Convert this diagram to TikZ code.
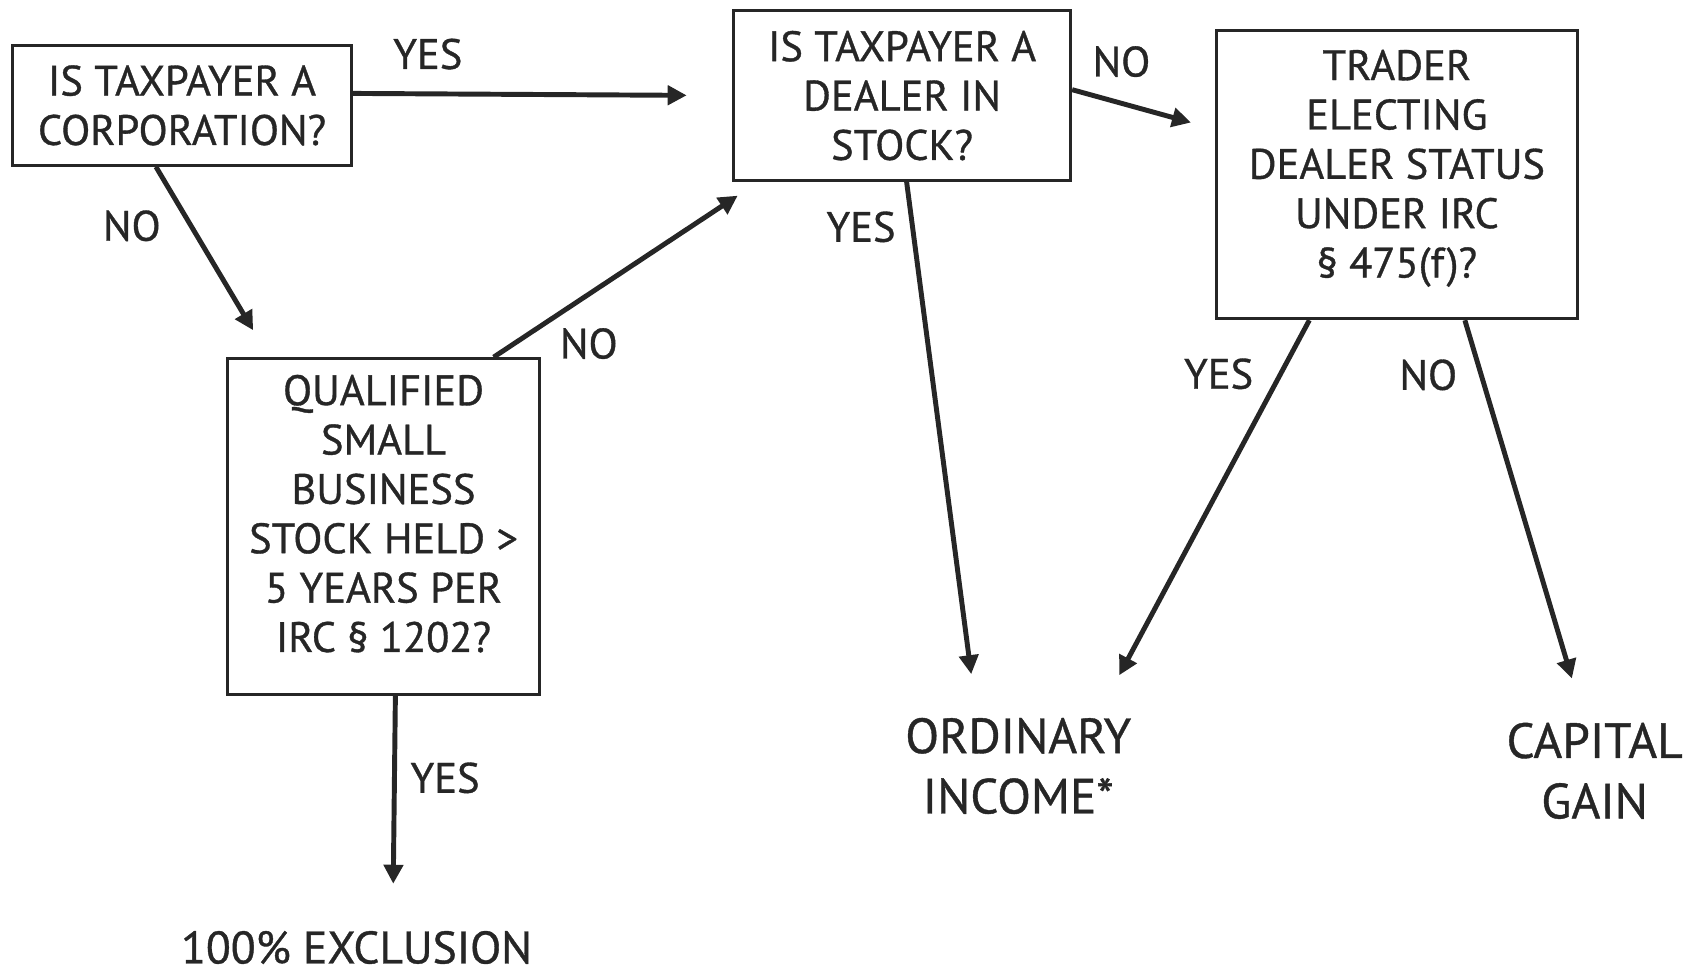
\documentclass[tikz,border=0pt]{standalone}
\usepackage{fontspec}
\setmainfont{PT Sans}[FakeBold=0.8]
\usetikzlibrary{arrows.meta}
\definecolor{ink}{gray}{0.15}

\begin{document}
\begin{tikzpicture}[x=0.1mm,y=-0.1mm,
		qbox/.style={draw=ink,line width=0.8pt,text=ink,align=center,inner sep=0pt,font=\fontsize{11.2}{13}\selectfont},
		result/.style={text=ink,align=center,font=\fontsize{13}{15.9}\selectfont},
		lbl/.style={text=ink,font=\fontsize{11.2}{13}\selectfont},
		arr/.style={draw=ink,line width=1.3pt,-{Triangle[length=5pt,width=5pt]}}]
			\useasboundingbox (0,0) rectangle (1568,899);
			
			\node[qbox,minimum width=31.3mm,minimum height=11.1mm] (corp) at (168.5,97.5) {IS TAXPAYER A\\CORPORATION?};
			\node[qbox,minimum width=31.2mm,minimum height=15.7mm] (dealer) at (835,88.5) {IS TAXPAYER A\\DEALER IN\\STOCK?};
			\node[qbox,minimum width=33.4mm,minimum height=26.7mm] (trader) at (1293,161.5) {TRADER\\ELECTING\\DEALER STATUS\\UNDER IRC\\§ 475(f)?\rule[-5.7pt]{0pt}{0pt}};
			\node[qbox,minimum width=28.8mm,minimum height=31.1mm] (qsbs) at (355,487.5) {QUALIFIED\\SMALL\\BUSINESS\\STOCK HELD >\\5 YEARS PER\\IRC § 1202?\rule[-7pt]{0pt}{0pt}};
			
			\node[result] (ordinary) at (942.5,709) {ORDINARY\\INCOME*};
			\node[result] (capital) at (1476,713.5) {CAPITAL\\GAIN};
			\node[result,font=\fontsize{12}{14}\selectfont] (exclusion) at (330,877) {100\% EXCLUSION};
			
			\coordinate (tipord) at (899,624);
			\coordinate (tiptrd) at (1036,625);
			\coordinate (tipcap) at (1455,628);
			\coordinate (tipexc) at (364,818);
			
			\draw[arr,shorten >=4.2mm] (corp.4) -- (dealer.west);
			\draw[arr,shorten >=2.9mm] (corp.-113) -- (qsbs.124);
			\draw[arr,shorten >=2.3mm] (qsbs.57.6) -- (dealer.-149.7);
			\draw[arr,shorten >=2.3mm] (dealer.2) -- (trader.166.4);
			\draw[arr] (dealer.-87.8) -- (tipord);
			\draw[arr] (trader.-121.25) -- (tiptrd);
			\draw[arr] (trader.-65.4) -- (tipcap);
			\draw[arr] (qsbs.-86.7) -- (tipexc);
			
			\node[lbl] (yescorp) at (396,50) {YES};
			\node[lbl] (nocorp) at (122,209) {NO};
			\node[lbl] (noqsbs) at (545,318) {NO};
			\node[lbl] (yesdealer) at (797,210) {YES};
			\node[lbl] (nodealer) at (1038,57) {NO};
			\node[lbl] (yestrader) at (1128,346) {YES};
			\node[lbl] (notrader) at (1322,347) {NO};
			\node[lbl] (yesqsbs) at (412,720) {YES};
			
		\end{tikzpicture}
\end{document}
